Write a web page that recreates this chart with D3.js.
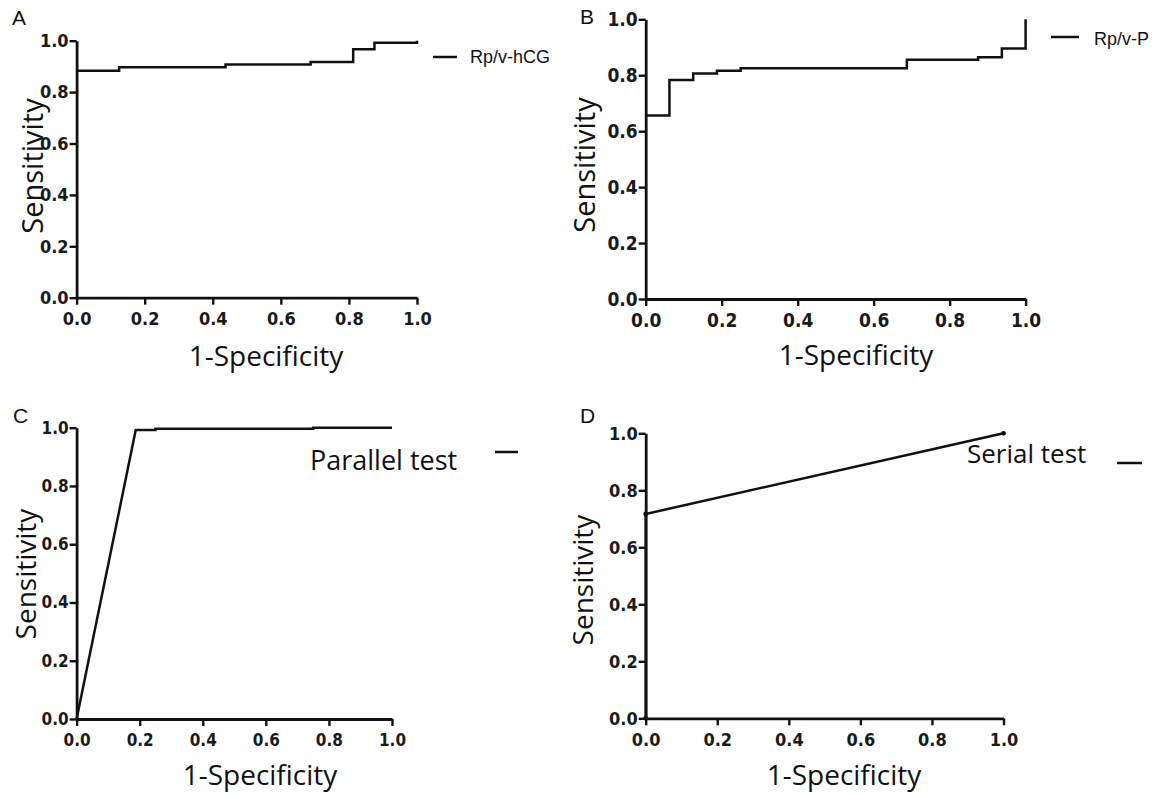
<!DOCTYPE html>
<html>
<head>
<meta charset="utf-8">
<script src="https://cdn.jsdelivr.net/npm/d3@7"></script>
<style>
  body { margin: 0; background: #fff; }
  svg { display: block; }
  .tick text { font-family: "Liberation Sans Narrow", "DejaVu Sans Condensed", "Arial Narrow", sans-serif; font-weight: bold; font-stretch: condensed; fill: #1a1a1a; }
  .title { font-family: "Open Sans", sans-serif; fill: #111; }
  .panel-label { font-family: "Liberation Sans", Arial, sans-serif; fill: #111; }
</style>
</head>
<body>
<div id="chart"></div>
<script>
// ROC data
const ticks = [0, 0.2, 0.4, 0.6, 0.8, 1.0];

const fprA = [0, 0.125, 0.4375, 0.6875, 0.8125, 0.875, 1, 1];
const tprA = [0.883, 0.897, 0.907, 0.917, 0.967, 0.992, 0.992, 1.0];

const fprB = [0, 0.0625, 0.125, 0.1875, 0.25, 0.6875, 0.875, 0.9375, 1];
const tprB = [0.656, 0.783, 0.806, 0.816, 0.825, 0.855, 0.864, 0.896, 1.0];

const fprC = [0, 0.1875, 0.25, 0.25, 0.75, 0.75, 1];
const tprC = [0, 0.992, 0.992, 0.996, 0.996, 1.0, 1.0];

const fprD = [0, 0, 1];
const tprD = [0, 0.717, 1.0];

const seriesNames = ["Rp/v-hCG", "Rp/v-P", "Parallel test", "Serial test"];
const panelLetters = ["A", "B", "C", "D"];

const W = 1156, H = 796;
const svg = d3.select("#chart").append("svg")
  .attr("width", W).attr("height", H);

// layout of each panel (pixel boxes, fonts, legend spots)
const panels = [
  { fpr: fprA, tpr: tprA, curve: d3.curveStepAfter,
    x0: 76.6, x1: 417, yb: 297.7, yt: 40.7, tickFont: 18,
    letter: [12, 25], xt: [266, 366], yt2: [43, 166], titleSize: 28, ytSize: 29,
    leg: { line: [433, 457, 57], text: [470, 63], font: "18px 'Liberation Sans', Arial, sans-serif" } },
  { fpr: fprB, tpr: tprB, curve: d3.curveStepAfter,
    x0: 645.7, x1: 1025.6, yb: 299, yt: 19.3, tickFont: 19,
    letter: [580, 24], xt: [856, 365], yt2: [595, 165], titleSize: 28, ytSize: 29,
    leg: { line: [1051, 1079, 37], text: [1094, 45], font: "18px 'Liberation Sans', Arial, sans-serif" } },
  { fpr: fprC, tpr: tprC, curve: d3.curveLinear,
    x0: 76.6, x1: 392, yb: 719, yt: 427.7, tickFont: 17,
    letter: [13, 423], xt: [260, 785], yt2: [36, 574], titleSize: 28, ytSize: 28,
    leg: { line: [495, 518, 452], text: [310, 470], font: "27px 'Open Sans', sans-serif" } },
  { fpr: fprD, tpr: tprD, curve: d3.curveLinear, dots: true,
    x0: 645.7, x1: 1003.5, yb: 718.3, yt: 433.3, tickFont: 18,
    letter: [580, 423], xt: [844, 785], yt2: [593, 580], titleSize: 28, ytSize: 28,
    leg: { line: [1117, 1142, 463], text: [967, 463], font: "26px 'Open Sans', sans-serif" } }
];

panels.forEach(function(p, i) {
  const x = d3.scaleLinear().domain([0, 1]).range([p.x0, p.x1]);
  const y = d3.scaleLinear().domain([0, 1]).range([p.yb, p.yt]);
  const g = svg.append("g");

  const xAxis = g.append("g")
    .attr("transform", "translate(0," + p.yb + ")")
    .call(d3.axisBottom(x).tickValues(ticks).tickFormat(d3.format(".1f"))
      .tickSize(7).tickSizeOuter(0).tickPadding(8));
  const yAxis = g.append("g")
    .attr("transform", "translate(" + p.x0 + ",0)")
    .call(d3.axisLeft(y).tickValues(ticks).tickFormat(d3.format(".1f"))
      .tickSize(7).tickSizeOuter(0).tickPadding(1));

  [xAxis, yAxis].forEach(function(a) {
    a.select(".domain").attr("stroke", "#111").attr("stroke-width", 2.8);
    a.selectAll(".tick line").attr("stroke", "#111").attr("stroke-width", 2.4);
    a.selectAll(".tick text").style("font-size", p.tickFont + "px");
  });

  const pts = p.fpr.map(function(f, k) { return [f, p.tpr[k]]; });
  const line = d3.line().x(function(d) { return x(d[0]); })
    .y(function(d) { return y(d[1]); }).curve(p.curve);

  g.append("path").datum(pts)
    .attr("d", line)
    .attr("fill", "none")
    .attr("stroke", "#111")
    .attr("stroke-width", 2.5)
    .attr("stroke-linejoin", "miter");

  if (p.dots) {
    g.selectAll("circle.pt").data(pts).enter().append("circle")
      .attr("cx", function(d) { return x(d[0]); })
      .attr("cy", function(d) { return y(d[1]); })
      .attr("r", 2.4).attr("fill", "#111");
  }

  // panel letter
  g.append("text").attr("class", "panel-label")
    .attr("x", p.letter[0]).attr("y", p.letter[1])
    .style("font-size", "21px").text(panelLetters[i]);

  // axis titles
  g.append("text").attr("class", "title")
    .attr("x", p.xt[0]).attr("y", p.xt[1])
    .attr("text-anchor", "middle")
    .style("font-size", p.titleSize + "px")
    .text("1-Specificity");
  g.append("text").attr("class", "title")
    .attr("transform", "translate(" + p.yt2[0] + "," + p.yt2[1] + ")rotate(-90)")
    .attr("text-anchor", "middle")
    .style("font-size", p.ytSize + "px")
    .text("Sensitivity");

  // legend
  g.append("line")
    .attr("x1", p.leg.line[0]).attr("x2", p.leg.line[1])
    .attr("y1", p.leg.line[2]).attr("y2", p.leg.line[2])
    .attr("stroke", "#111").attr("stroke-width", 2.5);
  g.append("text")
    .attr("x", p.leg.text[0]).attr("y", p.leg.text[1])
    .style("font", p.leg.font).style("fill", "#111")
    .text(seriesNames[i]);
});
</script>
</body>
</html>
